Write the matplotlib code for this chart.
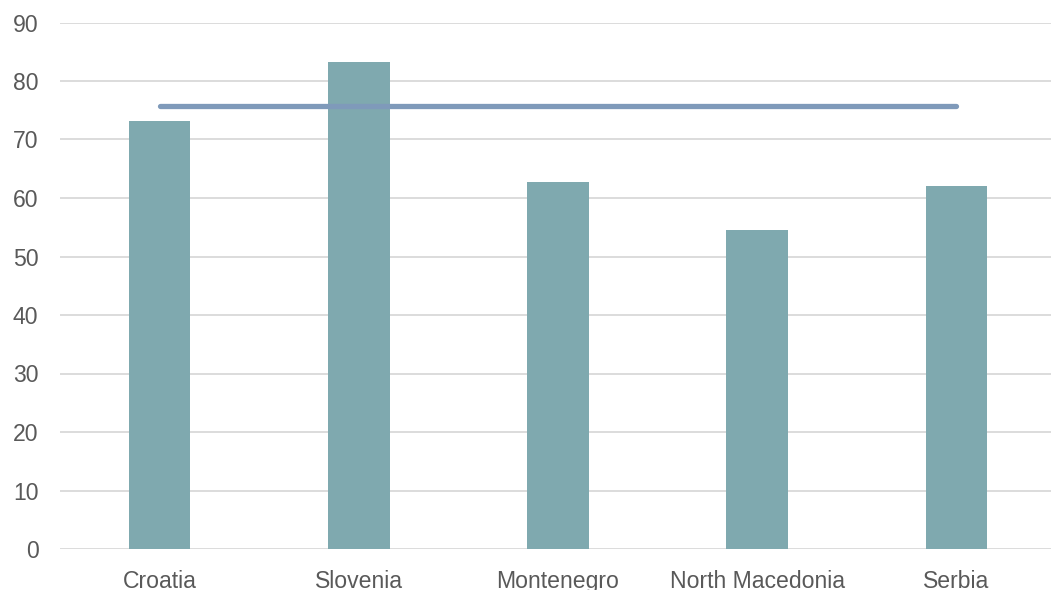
import matplotlib.pyplot as plt
import numpy as np

countries = ['Croatia', 'Slovenia', 'Montenegro', 'North Macedonia', 'Serbia']
values = [73.1, 83.2, 62.7, 54.6, 62.1]
average = [75.7, 75.7, 75.7, 75.7, 75.7]
yticks = [0, 10, 20, 30, 40, 50, 60, 70, 80, 90]

plt.rcParams['font.family'] = ['Liberation Sans', 'DejaVu Sans']

W, H = 1051, 590
fig = plt.figure(figsize=(W / 100, H / 100), dpi=100)
ax = fig.add_axes([60 / W, 1 - 549 / H, 996 / W, (549 - 22.5) / H])

x = np.arange(len(countries))
ax.bar(x, values, width=0.31, color='#7fa9af', zorder=2)
ax.plot(x, average, color='#7f9aba', linewidth=3.8, solid_capstyle='round', zorder=3)

ax.set_xlim(-0.5, len(countries) - 0.5)
ax.set_ylim(0, 90)
ax.set_yticks(yticks)
ax.set_xticks(x)
ax.set_xticklabels(countries)
ax.grid(axis='y', color='#d9d9d9', linewidth=1.3, zorder=0)
ax.set_axisbelow(True)
for s in ax.spines.values():
    s.set_visible(False)
ax.tick_params(axis='both', length=0, labelsize=16.6, colors='#595959')
ax.tick_params(axis='y', pad=15.5)
ax.tick_params(axis='x', pad=15)

fig.savefig('out.png', dpi=100)
